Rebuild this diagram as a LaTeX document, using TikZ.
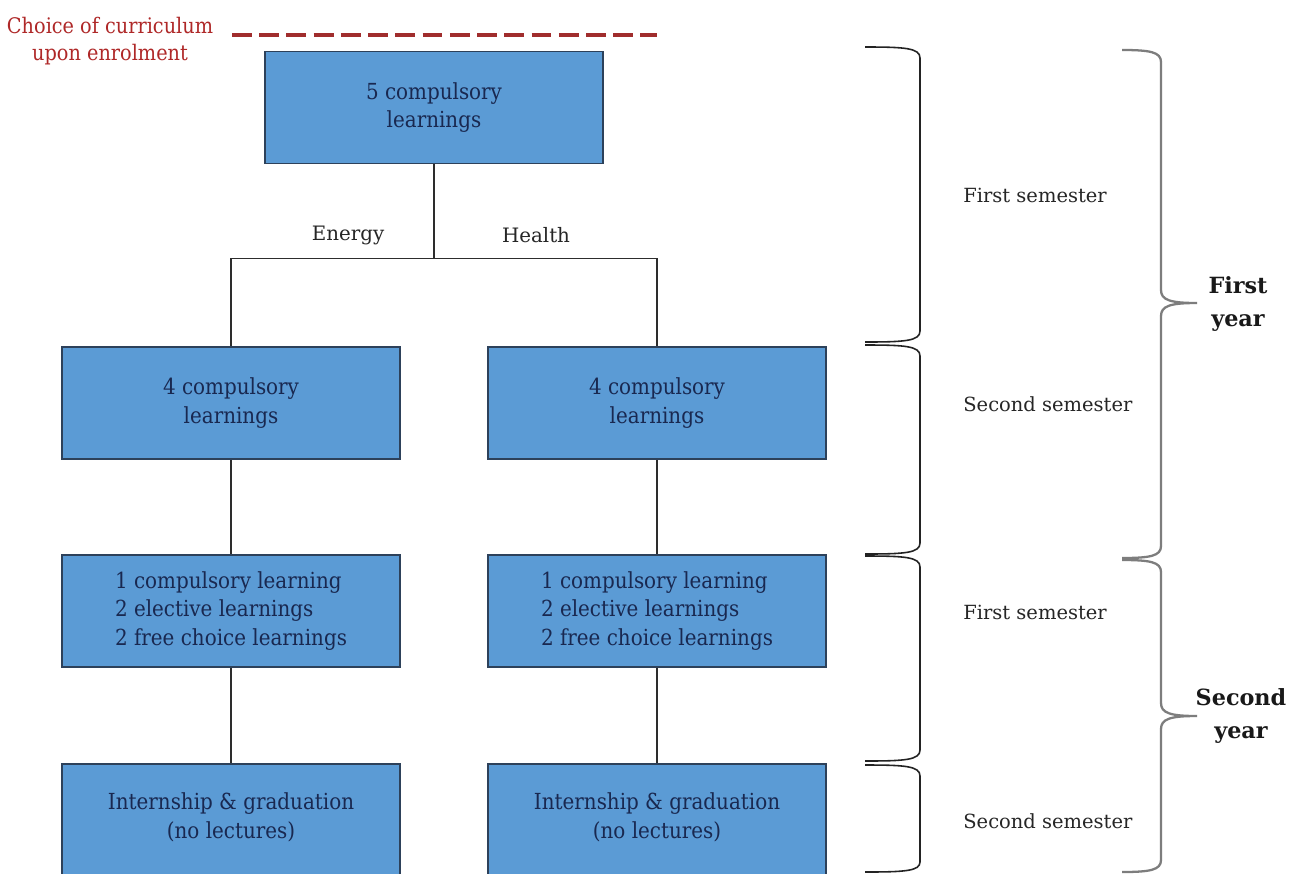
\documentclass[tikz,border=0pt]{standalone}
\usepackage{fontspec}
\setmainfont{DejaVu Serif}
\newfontfamily\condfont{DejaVu Serif Condensed}
\definecolor{boxfill}{RGB}{91,155,213}
\definecolor{boxline}{RGB}{45,65,90}
\definecolor{boxtext}{RGB}{25,40,80}
\definecolor{choicered}{RGB}{175,40,40}
\definecolor{dashred}{RGB}{160,45,45}
\definecolor{connc}{RGB}{45,45,45}
\definecolor{bracec}{RGB}{35,35,35}
\definecolor{bracegray}{RGB}{125,125,125}
\tikzset{
  box/.style={draw=boxline, line width=1pt, fill=boxfill, minimum width=6.76cm,
    minimum height=2.24cm, inner sep=0pt, text=boxtext,
    font=\condfont\fontsize{12.6}{16.4}\selectfont, align=center},
  boxtxt/.style={inner sep=0pt, text=boxtext, font=\condfont\fontsize{12.6}{16.4}\selectfont, align=center},
  conn/.style={draw=connc, line width=0.8pt},
  lbl/.style={inner sep=0pt, text=black!85, font=\fontsize{11.3}{14}\selectfont},
  semlbl/.style={inner sep=0pt, anchor=west, text=black!85, font=\fontsize{11.1}{14}\selectfont},
  yearlbl/.style={inner sep=0pt, align=center, text=black!90, font=\bfseries\fontsize{12.7}{18.7}\selectfont},
  choicetxt/.style={inner sep=0pt, align=center, text=choicered, font=\condfont\fontsize{12.2}{15.3}\selectfont},
  choicedash/.style={draw=dashred, line width=1.8pt, dash pattern=on 11.3pt off 4.2pt},
  brA/.style={draw=bracec, line width=0.9pt},
  brB/.style={draw=bracegray, line width=1.3pt},
}
\begin{document}
\begin{tikzpicture}[x=0.02cm,y=-0.02cm]
\clip (0,0) rectangle (1291,873);
\fill[white] (0,0) rectangle (1291,873);

% choice of curriculum
\node[choicetxt] (choice) at (110,41) {Choice of curriculum\\upon enrolment};
\coordinate (dashA) at (232,35);
\coordinate (dashB) at (657,35);
\draw[choicedash] (dashA) -- (dashB);

% boxes
\node[box] (b1) at (434,107.5) {5 compulsory\\learnings};
\node[box] (b2L) at (231,403) {4 compulsory\\learnings};
\node[box] (b2R) at (657,403) {4 compulsory\\learnings};
\node[box, align=left] (b3L) at (231,611) {1 compulsory learning\\2 elective learnings\\2 free choice learnings};
\node[box, align=left] (b3R) at (657,611) {1 compulsory learning\\2 elective learnings\\2 free choice learnings};
\node[box, minimum height=2.5cm, anchor=north] (b4L) at (231,763) {};
\node[box, minimum height=2.5cm, anchor=north] (b4R) at (657,763) {};
\node[boxtxt] (t4L) at (231,817) {Internship \& graduation\\(no lectures)};
\node[boxtxt] (t4R) at (657,817) {Internship \& graduation\\(no lectures)};

% connectors
\draw[conn] (b1.south) -- ++(0,94) -| (b2L.north);
\draw[conn] (b1.south) -- ++(0,94) -| (b2R.north);
\draw[conn] (b2L) -- (b3L);
\draw[conn] (b2R) -- (b3R);
\draw[conn] (b3L) -- (b4L);
\draw[conn] (b3R) -- (b4R);

\node[lbl] (energy) at (348,235) {Energy};
\node[lbl] (health) at (536,235) {Health};

% semester brackets
\draw[brA] (865,47) .. controls (905,47) and (920,48) .. (920,58) -- (920,331) .. controls (920,341) and (905,342) .. (865,342);
\draw[brA] (865,345) .. controls (905,345) and (920,346) .. (920,356) -- (920,543) .. controls (920,553) and (905,554) .. (865,554);
\draw[brA] (865,556) .. controls (905,556) and (920,557) .. (920,567) -- (920,750) .. controls (920,760) and (905,761) .. (865,761);
\draw[brA] (865,765) .. controls (905,765) and (920,766) .. (920,776) -- (920,862) .. controls (920,871) and (905,872) .. (865,872);

\node[semlbl] (s1) at (963,195) {First semester};
\node[semlbl] (s2) at (963,404) {Second semester};
\node[semlbl] (s3) at (963,612) {First semester};
\node[semlbl] (s4) at (963,821) {Second semester};

% year braces
\draw[brB] (1122,50) .. controls (1150,50) and (1161,52) .. (1161,62) -- (1161,290)
  .. controls (1161,300) and (1170,303) .. (1197,303)
  .. controls (1170,303) and (1161,306) .. (1161,316) -- (1161,546)
  .. controls (1161,556) and (1150,558) .. (1122,558);
\draw[brB] (1122,560) .. controls (1150,560) and (1161,562) .. (1161,572) -- (1161,703)
  .. controls (1161,713) and (1170,716) .. (1197,716)
  .. controls (1170,716) and (1161,719) .. (1161,729) -- (1161,860)
  .. controls (1161,870) and (1150,872) .. (1122,872);

\node[yearlbl] (y1) at (1238,304) {First\\year};
\node[yearlbl] (y2) at (1241,716) {Second\\year};
\end{tikzpicture}
\end{document}
